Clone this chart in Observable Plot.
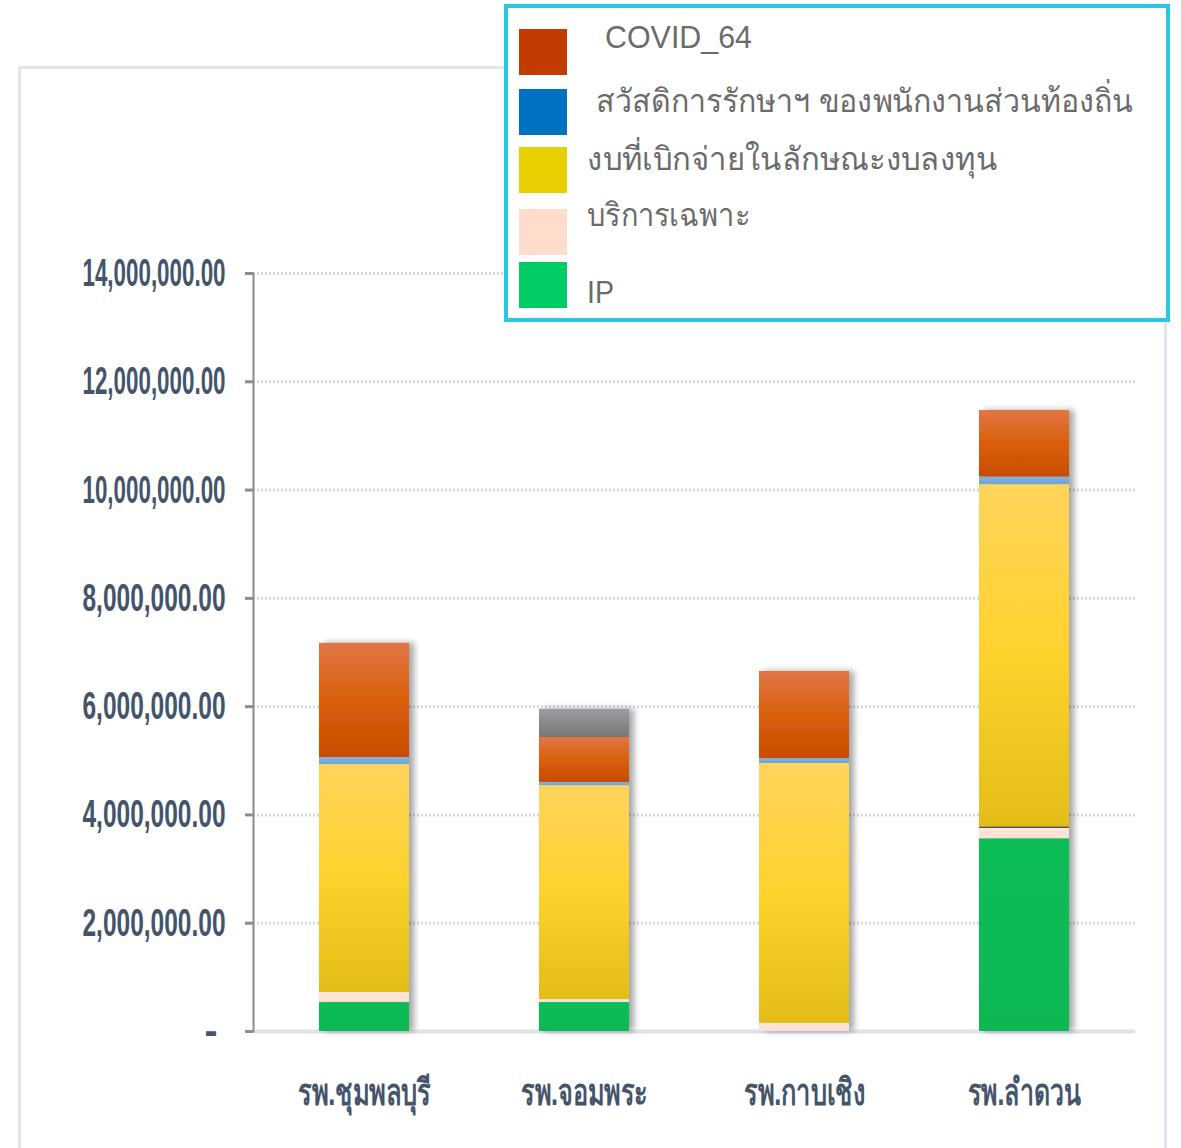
<!DOCTYPE html>
<html>
<head>
<meta charset="utf-8">
<script src="https://cdn.jsdelivr.net/npm/d3@7"></script>
<script src="https://cdn.jsdelivr.net/npm/@observablehq/plot@0.6"></script>
<style>
  html, body { margin: 0; padding: 0; background: #fff; }
  #wrap { position: relative; width: 1181px; height: 1148px; overflow: hidden; background: #fff; }
  #panel { position: absolute; left: 18px; top: 66px; width: 1149px; height: 1100px;
           border: 3px solid #dfe5ec; box-sizing: border-box; }
  #chart { position: absolute; left: 0; top: 0; }
  #legend { position: absolute; left: 0; top: 0; }
</style>
</head>
<body>
<div id="wrap">
  <div id="panel"></div>
  <div id="chart"></div>
  <svg id="legend" width="1181" height="330"></svg>
</div>
<script>
// ---- data ----
const hospitals = ["รพ.ชุมพลบุรี", "รพ.จอมพระ", "รพ.กาบเชิง", "รพ.ลำดวน"];
const seriesNames = ["IP", "บริการเฉพาะ", "อื่นๆ (ก)", "งบที่เบิกจ่ายในลักษณะงบลงทุน", "สวัสดิการรักษาฯ ของพนักงานส่วนท้องถิ่น", "COVID_64", "อื่นๆ (ข)"];
const ipValues       = [535000, 535000, 0, 3560000];
const specialValues  = [185000, 55000, 150000, 190000];
const otherAValues   = [0, 0, 0, 30000];
const capitalValues  = [4210000, 3950000, 4800000, 6320000];
const welfareValues  = [130000, 60000, 90000, 140000];
const covidValues    = [2110000, 830000, 1610000, 1230000];
const otherBValues   = [0, 520000, 0, 0];
const yTicks = [0, 2e6, 4e6, 6e6, 8e6, 10e6, 12e6, 14e6];
const legendNames = ["COVID_64", " สวัสดิการรักษาฯ ของพนักงานส่วนท้องถิ่น", "งบที่เบิกจ่ายในลักษณะงบลงทุน", "บริการเฉพาะ", "IP"];
const legendColors = ["#c23b00", "#0070c0", "#e8d000", "#ffdccc", "#00cc66"];

const seriesValues = [ipValues, specialValues, otherAValues, capitalValues, welfareValues, covidValues, otherBValues];
const gradIds = ["gIP", "gSpecial", "gOtherA", "gCapital", "gWelfare", "gCovid", "gOtherB"];
const gradStops = [
  ["#08bd57", "#07b853"],
  ["#fde6da", "#fbe0d2"],
  ["#5a5a5a", "#4a4a4a"],
  ["#ffd45c", "#fdd22c", "#e3bd18"],
  ["#80b4e2", "#6aa5da"],
  ["#e07646", "#da5f0b", "#c84c00"],
  ["#9c9c9c", "#777777"]
];

const data = [];
seriesNames.forEach((s, i) => {
  hospitals.forEach((h, j) => {
    data.push({hospital: h, series: s, value: seriesValues[i][j]});
  });
});

const fmt = d3.format(",.2f");

const chart = Plot.plot({
  width: 1181,
  height: 1148,
  marginLeft: 253,
  marginRight: 46,
  marginTop: 273,
  marginBottom: 117,
  style: {background: "transparent", fontFamily: "Liberation Sans Narrow, Liberation Sans, sans-serif"},
  x: {domain: hospitals, paddingInner: 0.59, paddingOuter: 0.295, label: null},
  y: {domain: [0, 14e6], label: null},
  color: {domain: seriesNames, range: gradIds.map(id => `url(#${id})`)},
  marks: [
    Plot.gridY(yTicks.filter(d => d > 0), {stroke: "#d3dae4", strokeOpacity: 1, strokeWidth: 3, strokeDasharray: "2,2"}),
    Plot.ruleY([0], {stroke: "#dde3ea", strokeWidth: 4}),
    Plot.barY(data, {x: "hospital", y: "value", fill: "series", order: seriesNames}),
    Plot.frame({anchor: "left", stroke: "#8c8c8c", strokeWidth: 2}),
    Plot.axisY({ticks: yTicks, tickSize: 8, tickPadding: 20, tickFormat: d => d === 0 ? "-" : fmt(d), label: null, fontSize: 39, stroke: "#8c8c8c", strokeWidth: 3}),
    Plot.axisX({tickSize: 0, tickPadding: 47, fontSize: 37, label: null})
  ]
});

document.getElementById("chart").appendChild(chart);

const svg = d3.select(chart);
// gradients and shadow
const defs = svg.insert("defs", ":first-child");
gradIds.forEach((id, i) => {
  const g = defs.append("linearGradient").attr("id", id).attr("x1", 0).attr("y1", 0).attr("x2", 0).attr("y2", 1);
  const stops = gradStops[i];
  stops.forEach((c, k) => g.append("stop").attr("offset", stops.length === 1 ? 0 : k / (stops.length - 1)).attr("stop-color", c));
});
const f = defs.append("filter").attr("id", "shadow").attr("x", "-10%").attr("y", "-5%").attr("width", "130%").attr("height", "110%");
f.append("feDropShadow").attr("dx", 5).attr("dy", 0).attr("stdDeviation", 3).attr("flood-color", "#000").attr("flood-opacity", 0.35);
svg.selectAll("g[aria-label='bar']").attr("filter", "url(#shadow)");

// y tick labels: condensed look
svg.selectAll("g[aria-label='y-axis tick label'] text").each(function(d) {
  const t = d3.select(this);
  t.attr("fill", "#44546a").attr("font-weight", "bold");
  if (this.textContent !== "-") {
    t.attr("textLength", 143).attr("lengthAdjust", "spacingAndGlyphs");
  } else {
    t.attr("dx", -8);
  }
});
// x tick labels
const xWidths = [133, 127, 121, 113];
svg.selectAll("g[aria-label='x-axis tick label'] text").each(function(d, i) {
  d3.select(this).attr("fill", "#44546a").attr("font-weight", "bold")
    .attr("textLength", xWidths[i]).attr("lengthAdjust", "spacingAndGlyphs");
});

// legend
const lg = d3.select("#legend");
lg.append("rect").attr("x", 506).attr("y", 6).attr("width", 662).attr("height", 314)
  .attr("fill", "#fff").attr("stroke", "#2ac6e3").attr("stroke-width", 4);
const swY = [29, 89, 147, 209, 262];
const txX = [605, 596, 587, 587, 587];
const txY = [48, 112, 170, 226, 303];
const txW = [147, 537, 410, 163, 27];
legendNames.forEach((name, i) => {
  lg.append("rect").attr("x", 519).attr("y", swY[i]).attr("width", 48).attr("height", 46).attr("fill", legendColors[i]);
  lg.append("text").attr("x", txX[i]).attr("y", txY[i]).attr("fill", "#6b6b6b")
    .attr("font-family", "Liberation Sans Narrow, Liberation Sans, sans-serif").attr("font-size", 32)
    .attr("textLength", txW[i]).attr("lengthAdjust", "spacingAndGlyphs")
    .text(name.trim());
});
</script>
</body>
</html>
